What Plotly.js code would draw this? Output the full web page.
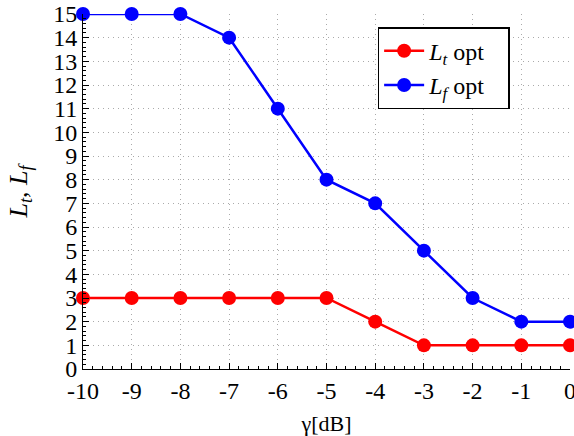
<!DOCTYPE html>
<html><head><meta charset="utf-8">
<script src="https://cdn.plot.ly/plotly-3.0.1.min.js"></script>
<style>html,body{margin:0;padding:0;background:#fff}#c{width:574px;height:436px}</style>
</head><body><div id="c"></div>
<script>
const gamma = [-10,-9,-8,-7,-6,-5,-4,-3,-2,-1,0];
const Lt = [3,3,3,3,3,3,2,1,1,1,1];
const Lf = [15,15,15,14,11,8,7,5,3,2,2];
const xTicks = [-10,-9,-8,-7,-6,-5,-4,-3,-2,-1,0];
const yTicks = [0,1,2,3,4,5,6,7,8,9,10,11,12,13,14,15];
const fontFam = 'Liberation Serif, Times New Roman, serif';
const traces = [
  {x: gamma, y: Lt, name: '<i>L<sub>t</sub></i> opt&nbsp;&nbsp;&nbsp;', mode: 'lines+markers',
   line: {color: '#ff0000', width: 2.5}, marker: {color: '#ff0000', size: 14}, cliponaxis: false},
  {x: gamma, y: Lf, name: '<i>L<sub>f</sub></i> opt&nbsp;&nbsp;&nbsp;', mode: 'lines+markers',
   line: {color: '#0000ff', width: 2.5}, marker: {color: '#0000ff', size: 14}, cliponaxis: false}
];
const axisCommon = {
  showline: true, linecolor: '#000', linewidth: 1, mirror: false,
  ticks: 'inside', ticklen: 6, tickcolor: '#000', tickwidth: 1,
  showgrid: true, gridcolor: '#aaa', griddash: '1px,4px', gridwidth: 1,
  zeroline: false, ticklabeloverflow: 'allow',
  tickfont: {family: fontFam, size: 24, color: '#000'}
};
const layout = {
  width: 574, height: 436,
  margin: {l: 83, r: 4, t: 14, b: 67},
  paper_bgcolor: '#fff', plot_bgcolor: '#fff',
  font: {family: fontFam, color: '#000'},
  showlegend: true,
  legend: {x: 0.605, y: 0.963, xanchor: 'left', yanchor: 'top',
    bordercolor: '#000', borderwidth: 1.5, bgcolor: '#fff',
    font: {family: fontFam, size: 24, color: '#000'}, tracegroupgap: 0, itemwidth: 40},
  xaxis: Object.assign({}, axisCommon, {
    range: [-10, 0], tickvals: xTicks, ticktext: xTicks.map(String),
    minor: {dtick: 0.2, ticks: 'inside', ticklen: 3, tickcolor: '#000', showgrid: false},
    title: {text: 'γ[dB]', font: {family: fontFam, size: 22, color: '#000'}, standoff: 20}
  }),
  yaxis: Object.assign({}, axisCommon, {
    range: [0, 15], tickvals: yTicks, ticktext: yTicks.map(String),
    minor: {dtick: 0.2, ticks: 'inside', ticklen: 3, tickcolor: '#000', showgrid: false},
    title: {text: '<i>L<sub>t</sub></i>, <i>L<sub>f</sub></i>', font: {family: fontFam, size: 26, color: '#000'}, standoff: 18}
  })
};
Plotly.newPlot('c', traces, layout, {staticPlot: true, displayModeBar: false});
</script></body></html>
